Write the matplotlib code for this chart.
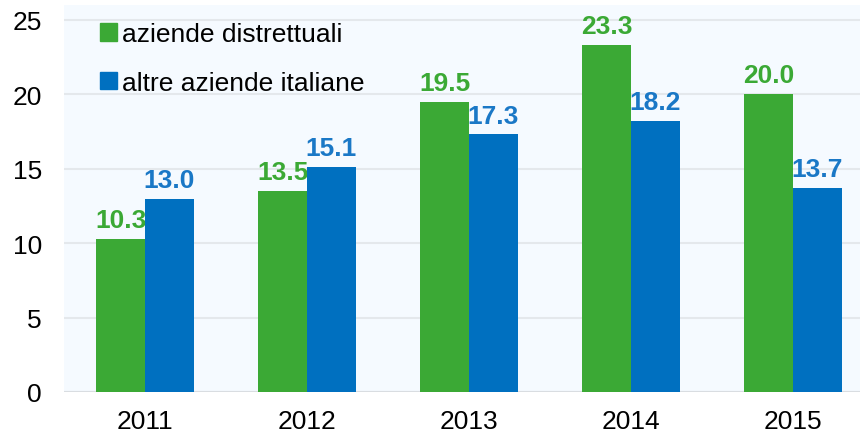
import numpy as np
import matplotlib.pyplot as plt
from matplotlib.patches import Patch

plt.rcParams['font.family'] = ['Liberation Sans', 'DejaVu Sans']

anni = ['2011', '2012', '2013', '2014', '2015']
distrettuali = [10.3, 13.5, 19.5, 23.3, 20.0]
altre = [13.0, 15.1, 17.3, 18.2, 13.7]
serie_nomi = ['aziende distrettuali', 'altre aziende italiane']

verde = '#3ba935'
blu = '#0070c0'
blu_testo = '#1a78c6'

fig = plt.figure(figsize=(8.6, 4.35), dpi=100)
ax = fig.add_axes([64/860, 1 - 393/435, 1 - 64/860, 387/435])
ax.set_facecolor('#f5faff')

x = np.arange(len(anni))
w = 0.3
b1 = ax.bar(x - w/2, distrettuali, w, color=verde, zorder=3)
b2 = ax.bar(x + w/2, altre, w, color=blu, zorder=3)

# etichette verdi sotto le barre blu (come nell'originale il "10.3" viene coperto)
for rects, vals, col, z in [(b1, distrettuali, verde, 2.5), (b2, altre, blu_testo, 4)]:
    for r, v in zip(rects, vals):
        ax.annotate(f'{v:.1f}', (r.get_x() + r.get_width()/2, v),
                    xytext=(0, 5), textcoords='offset points',
                    ha='center', va='bottom', fontsize=19, fontweight='bold',
                    color=col, zorder=z)

ax.set_xlim(-0.5, -0.5 + 796/162)
ax.set_ylim(0, 26)
ax.set_yticks([0, 5, 10, 15, 20, 25])
ax.set_xticks(x)
ax.set_xticklabels(anni)
ax.yaxis.grid(True, color='#e4e8ec', lw=1.5, zorder=0)
ax.axhline(0, color='#d9dde1', lw=1.5, zorder=2)
for s in ax.spines.values():
    s.set_visible(False)
ax.tick_params(axis='both', length=0, labelsize=19, colors='black')
ax.tick_params(axis='y', pad=16)
ax.tick_params(axis='x', pad=12)

handles = [Patch(color=verde), Patch(color=blu)]
ax.legend(handles, serie_nomi, loc='upper left', bbox_to_anchor=(0.045, 0.955),
          frameon=False, fontsize=19, handlelength=0.65, handleheight=0.65,
          handletextpad=0.2, labelspacing=0.92, borderpad=0, borderaxespad=0)

fig.savefig('out.png', dpi=100)
